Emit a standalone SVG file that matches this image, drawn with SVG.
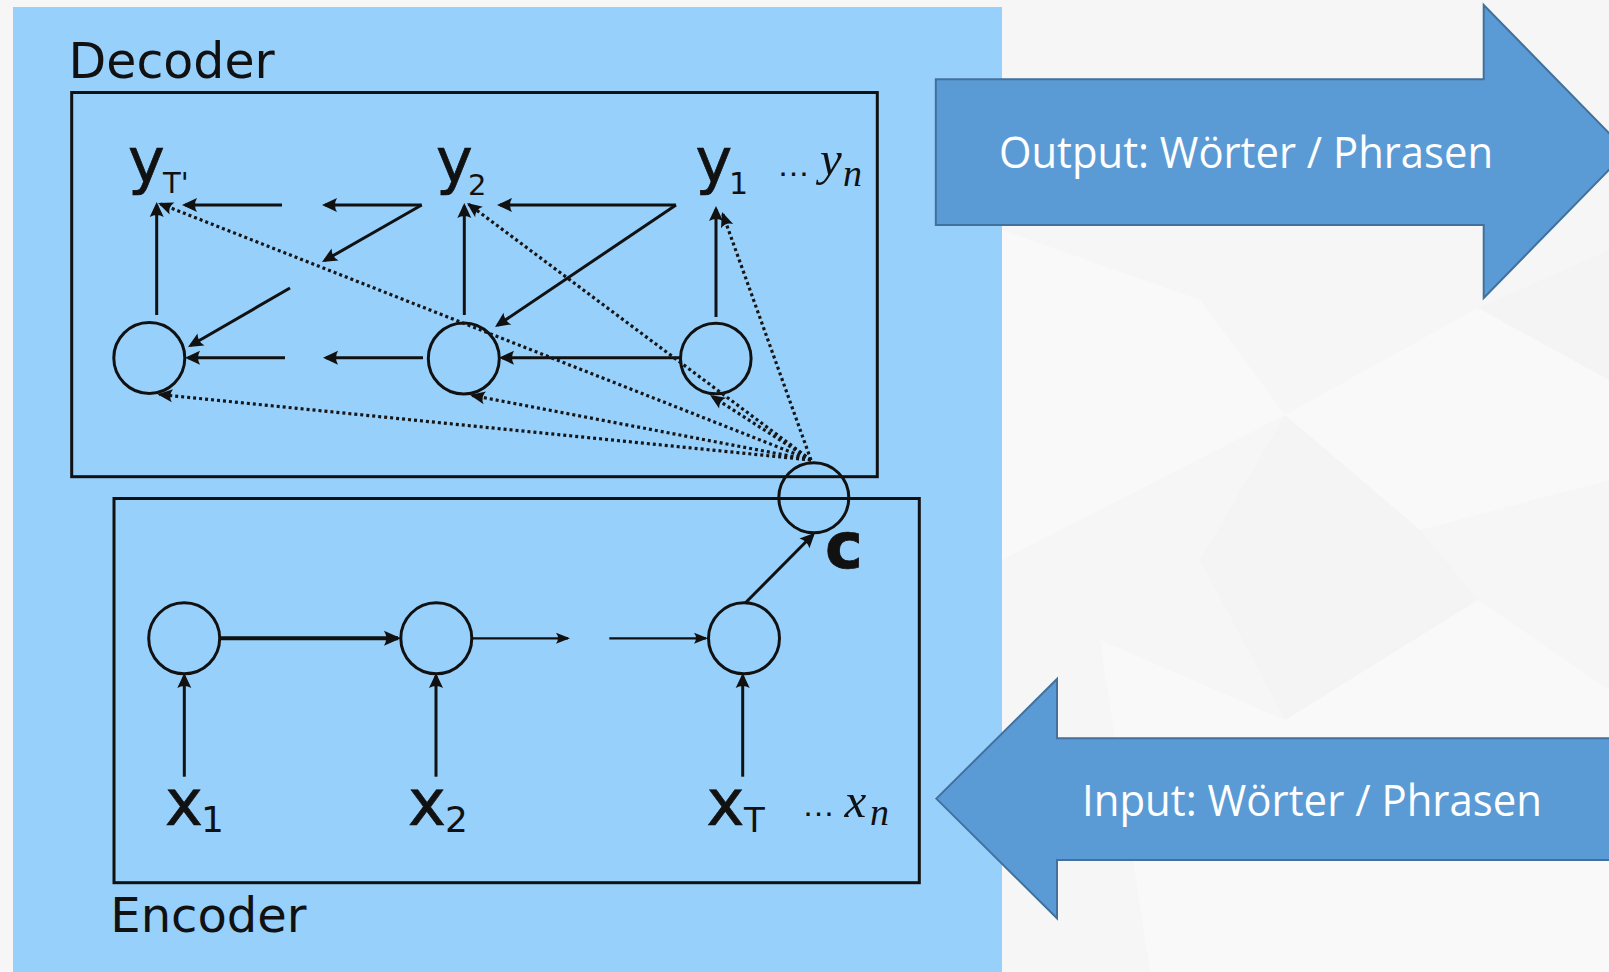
<svg xmlns="http://www.w3.org/2000/svg" width="1609" height="972" viewBox="0 0 1609 972">
  <defs>
    <style>
      .box { fill: none; stroke: #111; stroke-width: 3; }
      .cell { fill: none; stroke: #111; stroke-width: 3; }
      .edge { fill: none; stroke: #111; stroke-width: 3; marker-end: url(#ah); }
      .edge-thick { fill: none; stroke: #111; stroke-width: 4; marker-end: url(#ahb); }
      .edge-thin { fill: none; stroke: #111; stroke-width: 2.2; marker-end: url(#aht); }
      .attn { fill: none; stroke: #161616; stroke-width: 3.2; stroke-dasharray: 3 3; marker-end: url(#ahd); }
      .lbl { font-family: "DejaVu Sans", sans-serif; fill: #111; stroke: #111; stroke-width: 0.7; }
      .sub { font-family: "DejaVu Sans", sans-serif; fill: #111; }
      .math { font-family: "Liberation Serif", serif; font-style: italic; fill: #111; }
      .dots { font-family: "Liberation Sans", sans-serif; fill: #111; }
      .title { font-family: "DejaVu Sans", sans-serif; fill: #111; }
      .big-arrow { fill: #5B9BD5; stroke: #41719C; stroke-width: 2; }
      .big-text { font-family: "Open Sans", sans-serif; fill: #ffffff; }
    </style>
    <marker id="ah" markerUnits="userSpaceOnUse" orient="auto" refX="0" refY="0" overflow="visible">
      <path d="M3,0 L-12,-7 Q-8,0 -12,7 Z" fill="#111"/>
    </marker>
    <marker id="ahb" markerUnits="userSpaceOnUse" orient="auto" refX="0" refY="0" overflow="visible">
      <path d="M3,0 L-14,-7.5 Q-9.5,0 -14,7.5 Z" fill="#111"/>
    </marker>
    <marker id="aht" markerUnits="userSpaceOnUse" orient="auto" refX="0" refY="0" overflow="visible">
      <path d="M2,0 L-12,-5.5 Q-8,0 -12,5.5 Z" fill="#111"/>
    </marker>
    <marker id="ahd" markerUnits="userSpaceOnUse" orient="auto" refX="0" refY="0" overflow="visible">
      <path d="M2,0 L-13,-6.5 Q-8.5,0 -13,6.5 Z" fill="#111"/>
    </marker>
  </defs>

  <!-- slide background with faint facets -->
  <rect x="0" y="0" width="1609" height="972" fill="#f6f6f6"/>
  <g fill="#f9f9f9">
    <polygon points="1285,415 1478,308 1609,380 1609,480 1420,530"/>
    <polygon points="1100,640 1285,720 1478,600 1609,690 1609,972 1150,972"/>
    <polygon points="1002,230 1200,300 1285,415 1002,560"/>
  </g>
  <g fill="#f4f4f4">
    <polygon points="1478,308 1609,250 1609,380"/>
    <polygon points="1285,720 1478,600 1420,530 1285,415 1200,560"/>
  </g>

  <!-- light blue panel -->
  <rect id="panel" x="13" y="7" width="989" height="965" fill="#98D0FC"/>

  <!-- decoder / encoder frames -->
  <g id="decoder">
    <rect class="box" x="71.7" y="92.5" width="805.6" height="384.2"/>
    <text class="title" x="68.5" y="78.3" font-size="49">Decoder</text>
  </g>
  <g id="encoder">
    <rect class="box" x="114" y="498.5" width="805.3" height="384.2"/>
    <text class="title" x="110.3" y="931.7" font-size="48">Encoder</text>
  </g>

  <!-- decoder hidden states -->
  <g id="dec-s1"><circle class="cell" cx="149.3" cy="358" r="35.5"/></g>
  <g id="dec-s2"><circle class="cell" cx="463.8" cy="358.5" r="35.5"/></g>
  <g id="dec-s3"><circle class="cell" cx="715.8" cy="358.5" r="35.3"/></g>

  <!-- decoder outputs -->
  <g id="out-yT">
    <text class="lbl" x="128" y="181.6" font-size="62">y</text>
    <text class="sub" x="163" y="193.3" font-size="29">T'</text>
  </g>
  <g id="out-y2">
    <text class="lbl" x="436" y="181.6" font-size="62">y</text>
    <text class="sub" x="468" y="195" font-size="29">2</text>
  </g>
  <g id="out-y1">
    <text class="lbl" x="695.5" y="181.6" font-size="62">y</text>
    <text class="sub" x="729" y="194.3" font-size="30">1</text>
  </g>
  <g id="out-yn">
    <text class="dots" x="777" y="175.7" font-size="33">…</text>
    <text class="math" x="820" y="174.5" font-size="49">y</text>
    <text class="math" x="843" y="185.7" font-size="38">n</text>
  </g>

  <!-- context vector -->
  <g id="context">
    <circle class="cell" cx="813.8" cy="497.7" r="35"/>
    <text class="lbl" x="825" y="568" font-size="64" font-weight="bold" stroke-width="0">c</text>
  </g>

  <!-- encoder hidden states -->
  <g id="enc-h1"><circle class="cell" cx="184.2" cy="638.3" r="35.5"/></g>
  <g id="enc-h2"><circle class="cell" cx="436.3" cy="638.3" r="35.5"/></g>
  <g id="enc-hT"><circle class="cell" cx="744" cy="638.3" r="35.5"/></g>

  <!-- encoder inputs -->
  <g id="in-x1">
    <text class="lbl" x="165" y="825" font-size="64">x</text>
    <text class="sub" x="201" y="831.7" font-size="36">1</text>
  </g>
  <g id="in-x2">
    <text class="lbl" x="408" y="825" font-size="64">x</text>
    <text class="sub" x="445" y="831.7" font-size="36">2</text>
  </g>
  <g id="in-xT">
    <text class="lbl" x="706.5" y="825" font-size="64">x</text>
    <text class="sub" x="744" y="831.7" font-size="34">T</text>
  </g>
  <g id="in-xn">
    <text class="dots" x="802" y="816" font-size="33">…</text>
    <text class="math" x="844.5" y="816.7" font-size="49">x</text>
    <text class="math" x="870" y="825" font-size="38">n</text>
  </g>

  <!-- connectors -->
  <g id="connectors">
    <!-- decoder: state to output -->
    <path class="edge" d="M156.7,315 L156.7,205"/>
    <path class="edge" d="M464.3,315 L464.3,206"/>
    <path class="edge" d="M716,317 L716,209"/>
    <!-- decoder: previous output fed forward -->
    <path class="edge" d="M676,205 L500,205"/>
    <path class="edge" d="M676,205 L497.5,325.3"/>
    <path class="edge" d="M421.7,205 L325,205"/>
    <path class="edge" d="M421.7,205 L324.6,260.5"/>
    <path class="edge" d="M282,205 L185,205"/>
    <path class="edge" d="M290,288 L190.6,345.5"/>
    <!-- decoder: state to state -->
    <path class="edge" d="M680,357.7 L502,357.7"/>
    <path class="edge" d="M423,357.7 L326,357.7"/>
    <path class="edge" d="M285,357.7 L188,357.7"/>

    <!-- context broadcast -->
    <path class="attn" d="M811,460 L159.9,203.7"/>
    <path class="attn" d="M811,460 L159.5,394.5"/>
    <path class="attn" d="M811,460 L468.6,204.2"/>
    <path class="attn" d="M811,460 L472,395.4"/>
    <path class="attn" d="M811,460 L722.7,213.9"/>
    <path class="attn" d="M811,460 L711.7,396.1"/>

    <!-- encoder -->
    <path class="edge-thick" d="M220,638.3 L398,638.3"/>
    <path class="edge-thin" d="M471.7,638.3 L568,638.3"/>
    <path class="edge-thin" d="M609.3,638.3 L706,638.3"/>
    <path class="edge" d="M745,603.3 L812.9,534.8"/>
    <path class="edge" d="M184.3,776.7 L184.3,676"/>
    <path class="edge" d="M436,776.7 L436,676"/>
    <path class="edge" d="M742.7,776.7 L742.7,676"/>
  </g>

  <!-- block arrows -->
  <g id="output-arrow">
    <polygon class="big-arrow" points="935.8,79.3 1483.7,79.3 1483.7,5 1627,151.5 1483.7,298 1483.7,225 935.8,225"/>
    <text class="big-text" x="999" y="168.3" font-size="44" textLength="494" lengthAdjust="spacingAndGlyphs">Output: Wörter / Phrasen</text>
  </g>
  <g id="input-arrow">
    <polygon class="big-arrow" points="936.3,798.6 1057,679 1057,738.3 1625,738.3 1625,860 1057,860 1057,918.3"/>
    <text class="big-text" x="1082" y="815.7" font-size="43" textLength="460" lengthAdjust="spacingAndGlyphs">Input: Wörter / Phrasen</text>
  </g>
</svg>
